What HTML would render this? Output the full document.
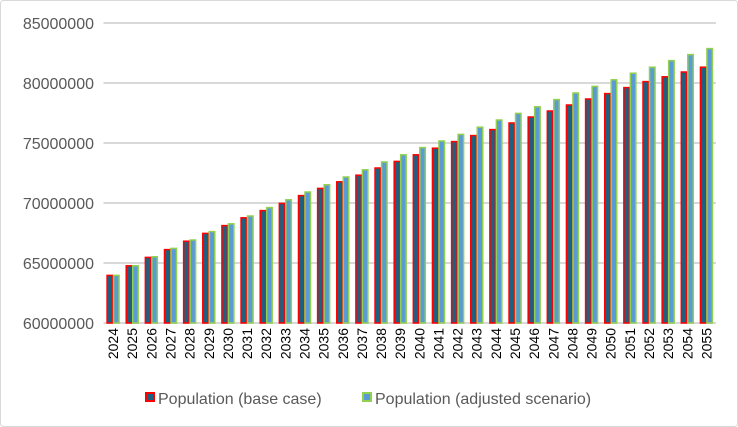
<!DOCTYPE html>
<html><head><meta charset="utf-8"><style>
html,body{margin:0;padding:0;background:#fff;}
svg{display:block;font-family:"Liberation Sans",sans-serif;}
</style></head><body>
<svg id="chart" width="738" height="427">
<rect x="0.5" y="0.5" width="737" height="426" rx="3" fill="#fff" stroke="#d9d9d9"/>
<g id="grid"></g><g id="bars"></g><g id="xlabels"></g><g id="ylabels"></g>
<g>
<g>
<rect x="146" y="393" width="8" height="8" fill="#1f5f7f" stroke="#ff0000" stroke-width="2"/>
<text x="158" y="404" font-size="16" fill="#595959">Population (base case)</text></g>
<g>
<rect x="363" y="393" width="8" height="8" fill="#5b9bd5" stroke="#92d050" stroke-width="2"/>
<text x="375" y="404" font-size="16" fill="#595959">Population (adjusted scenario)</text></g>
</g>
</svg>
<script>
const years=[2024,2025,2026,2027,2028,2029,2030,2031,2032,2033,2034,2035,2036,2037,2038,2039,2040,2041,2042,2043,2044,2045,2046,2047,2048,2049,2050,2051,2052,2053,2054,2055];
const baseCase=[64.05,64.85,65.55,66.2,66.9,67.55,68.2,68.85,69.45,70.05,70.7,71.3,71.85,72.4,73.0,73.55,74.1,74.65,75.2,75.7,76.2,76.75,77.25,77.75,78.25,78.75,79.2,79.7,80.2,80.6,81.0,81.4].map(v=>v*1e6);
const adjusted=[64.05,64.85,65.6,66.3,67.0,67.7,68.35,69.0,69.7,70.35,71.0,71.6,72.25,72.85,73.5,74.1,74.7,75.25,75.8,76.4,77.0,77.55,78.1,78.7,79.25,79.8,80.35,80.9,81.4,81.95,82.45,82.95].map(v=>v*1e6);
const yTicks=[60000000,65000000,70000000,75000000,80000000,85000000];
const NS="http://www.w3.org/2000/svg";
const x0=103.5,x1=716,y0=323,y1=23,vmin=60e6,vmax=85e6;
const bw=(x1-x0)/years.length;
const yS=v=>y0-(v-vmin)/(vmax-vmin)*(y0-y1);
const xC=i=>x0+bw*(i+0.5);
function mk(t,a,p){const e=document.createElementNS(NS,t);for(const k in a)e.setAttribute(k,a[k]);p.appendChild(e);return e;}
const grid=document.getElementById('grid'),bars=document.getElementById('bars'),xl=document.getElementById('xlabels'),yl=document.getElementById('ylabels');
yTicks.forEach(t=>{
 const l=mk('line',{x1:x0,x2:x1,y1:yS(t),y2:yS(t),stroke:'#d9d9d9','stroke-width':2},grid);
 
 
 const tx=mk('text',{x:94,y:yS(t)+6,'text-anchor':'end','font-size':16,fill:'#595959'},yl);
 tx.textContent=t;
 
 
});
const w=6.5;
years.forEach((yr,i)=>{
 const c=xC(i);
 const b=mk('rect',{x:c-w+0.5,y:yS(baseCase[i])+1,width:w-1,height:y0-yS(baseCase[i])-1,fill:'#1f5f7f',stroke:'#ff0000','stroke-width':1.5},bars);
 
 
 const a=mk('rect',{x:c+0.5,y:yS(adjusted[i])+1,width:w-1,height:y0-yS(adjusted[i])-1,fill:'#5b9bd5',stroke:'#92d050','stroke-width':1.5},bars);
 
 
 const t=mk('text',{x:0,y:0,'text-anchor':'end','font-size':14,fill:'#000',transform:`translate(${c+5},${y0+5}) rotate(-90)`},xl);
 t.textContent=yr;
 
 
});
</script>
</body></html>
